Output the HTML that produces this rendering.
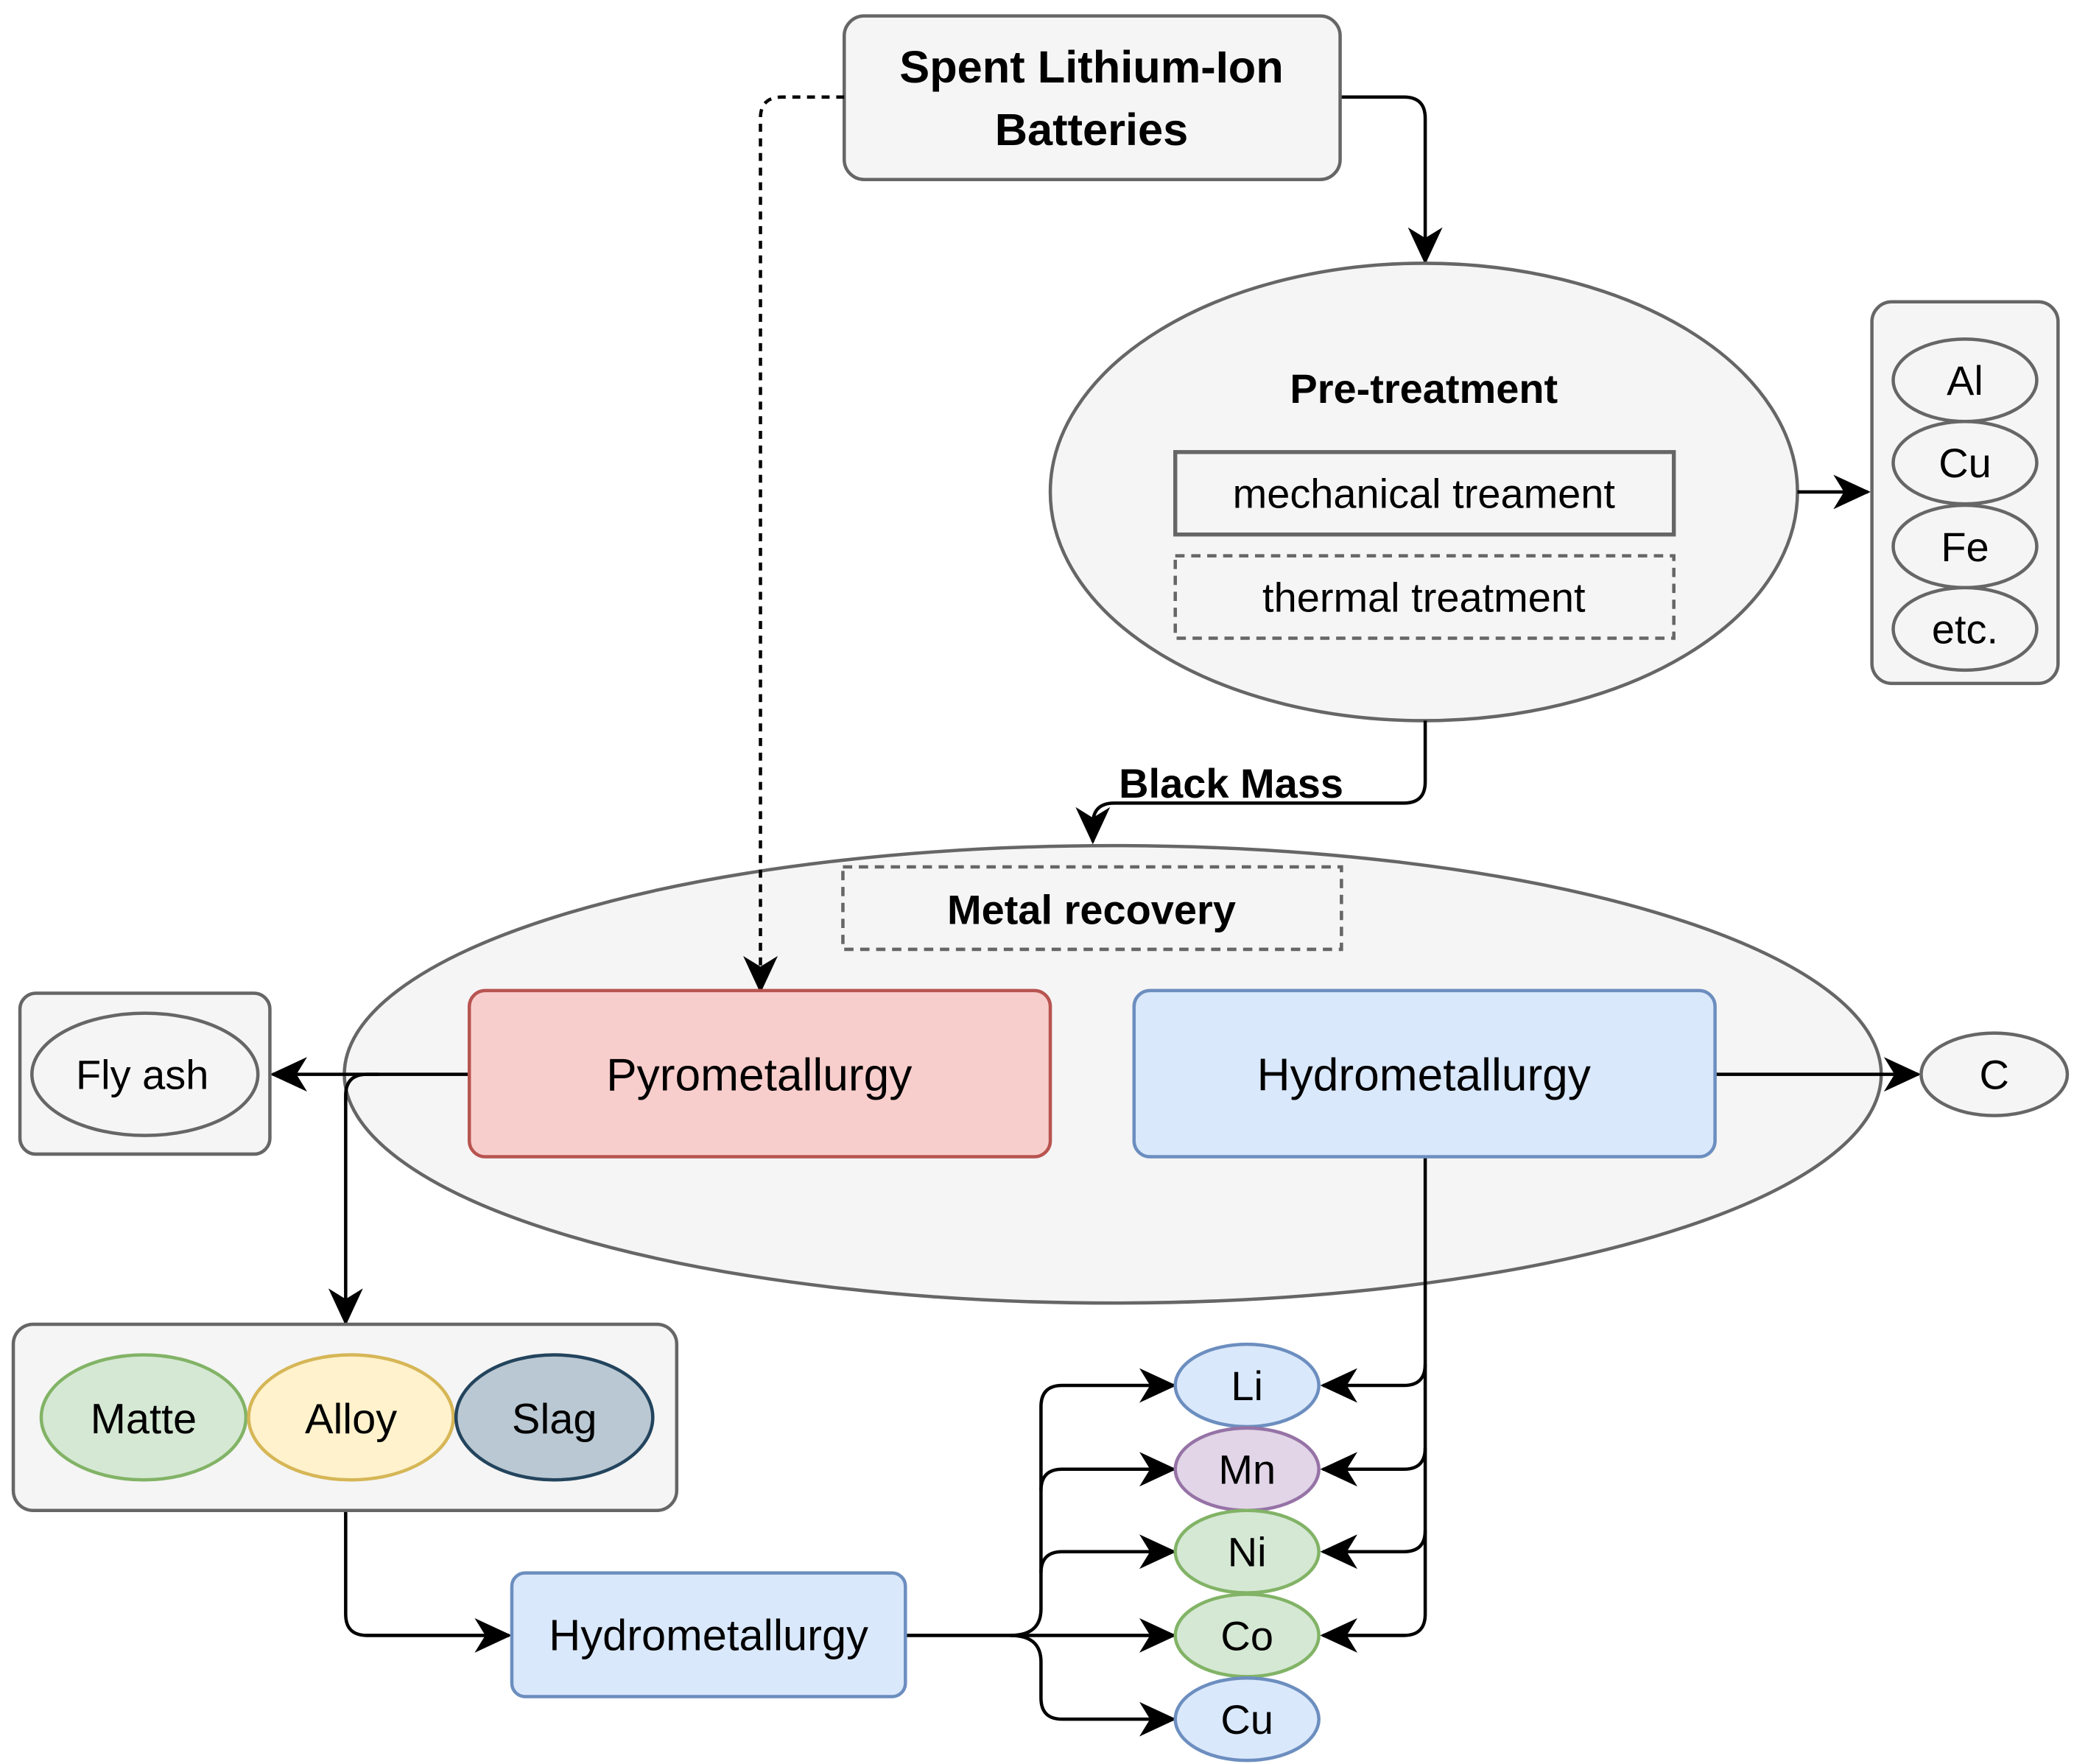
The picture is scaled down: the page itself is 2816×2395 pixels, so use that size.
<!DOCTYPE html>
<html><head><meta charset="utf-8"><style>html,body{margin:0;padding:0;background:#fff}svg{display:block}text{font-family:"Liberation Sans",Arial,sans-serif;fill:#000}</style></head>
<body>
<svg width="2816" height="2395" viewBox="0 0 1560 1326.7" preserveAspectRatio="none" xmlns="http://www.w3.org/2000/svg">
<defs>
<marker id="a" viewBox="0 0 28 26" refX="26" refY="13" markerWidth="28" markerHeight="26" markerUnits="userSpaceOnUse" orient="auto"><path d="M0,0 L28,13 L0,26 L8,13 Z" fill="#000"/></marker>
</defs>
<g stroke-width="2.5" fill="none" stroke="#000">
<path d="M1008,73 H1056 Q1072,73 1072,89 V197" marker-end="url(#a)"/>
</g>
<rect x="635" y="12" width="373" height="123" rx="15" fill="#f5f5f5" stroke="#666" stroke-width="2.5"/>
<text x="821" y="62" font-size="34" font-weight="bold" text-anchor="middle">Spent Lithium-Ion</text>
<text x="821" y="109" font-size="34" font-weight="bold" text-anchor="middle">Batteries</text>

<ellipse cx="1071" cy="370" rx="281" ry="172" fill="#f5f5f5" stroke="#666" stroke-width="2.5"/>
<text x="1071" y="303" font-size="31" font-weight="bold" text-anchor="middle">Pre-treatment</text>
<rect x="884" y="340" width="375" height="62" fill="#f5f5f5" stroke="#666" stroke-width="3"/>
<text x="1071" y="382" font-size="31" text-anchor="middle">mechanical treament</text>
<rect x="884" y="418" width="375" height="62" fill="#f5f5f5" stroke="#666" stroke-width="2.5" stroke-dasharray="7,5"/>
<text x="1071" y="460" font-size="31" text-anchor="middle">thermal treatment</text>

<path d="M1352,370 H1405" stroke="#000" stroke-width="2.5" marker-end="url(#a)"/>
<rect x="1408" y="227" width="140" height="287" rx="15" fill="#f5f5f5" stroke="#666" stroke-width="2.5"/>
<g fill="#f5f5f5" stroke="#666" stroke-width="2.5">
<ellipse cx="1478" cy="286" rx="54" ry="31"/><ellipse cx="1478" cy="348" rx="54" ry="31"/><ellipse cx="1478" cy="411" rx="54" ry="31"/><ellipse cx="1478" cy="473" rx="54" ry="31"/>
</g>
<g font-size="31" text-anchor="middle"><text x="1478" y="297">Al</text><text x="1478" y="359">Cu</text><text x="1478" y="422">Fe</text><text x="1478" y="484">etc.</text></g>

<path d="M1072,542 V588 Q1072,604 1056,604 H838 Q822,604 822,620 V633" fill="none" stroke="#000" stroke-width="2.5" marker-end="url(#a)"/>
<text x="926" y="600" font-size="31" font-weight="bold" text-anchor="middle">Black Mass</text>

<ellipse cx="837" cy="808" rx="578" ry="172" fill="#f5f5f5" stroke="#666" stroke-width="2.5"/>
<rect x="634" y="652" width="375" height="62" fill="#f5f5f5" stroke="#666" stroke-width="2.5" stroke-dasharray="7,5"/>
<text x="821" y="695" font-size="31" font-weight="bold" text-anchor="middle">Metal recovery</text>
<path d="M635,73 H588 Q572,73 572,89 V745" fill="none" stroke="#000" stroke-width="2.5" stroke-dasharray="6,5" marker-end="url(#a)"/>

<g stroke="#000" stroke-width="2.5" fill="none">
<path d="M353,808 H205" marker-end="url(#a)"/>
<path d="M285,808 H276 Q260,808 260,824 V995" marker-end="url(#a)"/>
<path d="M1290,808 H1443" marker-end="url(#a)"/>
<path d="M1072,870 V1214 Q1072,1230 1056,1230 H995" marker-end="url(#a)"/>
<path d="M1072,1026 Q1072,1042 1056,1042 H995" marker-end="url(#a)"/>
<path d="M1072,1089 Q1072,1105 1056,1105 H995" marker-end="url(#a)"/>
<path d="M1072,1151 Q1072,1167 1056,1167 H995" marker-end="url(#a)"/>
<path d="M260,1136 V1214 Q260,1230 276,1230 H383" marker-end="url(#a)"/>
<path d="M681,1230 H883" marker-end="url(#a)"/>
<path d="M760,1230 Q783,1230 783,1210 V1058 Q783,1042 799,1042 H883" marker-end="url(#a)"/>
<path d="M783,1121 Q783,1105 799,1105 H883" marker-end="url(#a)"/>
<path d="M783,1183 Q783,1167 799,1167 H883" marker-end="url(#a)"/>
<path d="M760,1230 Q783,1230 783,1250 V1277 Q783,1293 799,1293 H883" marker-end="url(#a)"/>
</g>

<rect x="353" y="745" width="437" height="125" rx="12" fill="#f8cecc" stroke="#b85450" stroke-width="2.5"/>
<text x="571" y="820" font-size="34.5" text-anchor="middle">Pyrometallurgy</text>
<rect x="853" y="745" width="437" height="125" rx="12" fill="#dae8fc" stroke="#6c8ebf" stroke-width="2.5"/>
<text x="1071" y="820" font-size="34.5" text-anchor="middle">Hydrometallurgy</text>

<ellipse cx="1500" cy="808" rx="55" ry="31" fill="#f5f5f5" stroke="#666" stroke-width="2.5"/>
<text x="1500" y="819" font-size="31" text-anchor="middle">C</text>

<rect x="15" y="747" width="188" height="121" rx="12" fill="#f5f5f5" stroke="#666" stroke-width="2.5"/>
<ellipse cx="109" cy="808" rx="85" ry="46" fill="#f5f5f5" stroke="#666" stroke-width="2.5"/>
<text x="107" y="819" font-size="31" text-anchor="middle">Fly ash</text>

<rect x="10" y="996" width="499" height="140" rx="15" fill="#f5f5f5" stroke="#666" stroke-width="2.5"/>
<ellipse cx="108" cy="1066" rx="77" ry="47" fill="#d5e8d4" stroke="#82b366" stroke-width="2.5"/>
<ellipse cx="264" cy="1066" rx="77" ry="47" fill="#fff2cc" stroke="#d6b656" stroke-width="2.5"/>
<ellipse cx="417" cy="1066" rx="74" ry="47" fill="#bac8d3" stroke="#23445d" stroke-width="2.5"/>
<g font-size="32" text-anchor="middle"><text x="108" y="1078">Matte</text><text x="264" y="1078">Alloy</text><text x="417" y="1078">Slag</text></g>

<rect x="385" y="1183" width="296" height="93" rx="10" fill="#dae8fc" stroke="#6c8ebf" stroke-width="2.5"/>
<text x="533" y="1241" font-size="33" text-anchor="middle">Hydrometallurgy</text>

<g stroke-width="2.5">
<ellipse cx="938" cy="1042" rx="54" ry="31" fill="#dae8fc" stroke="#6c8ebf"/>
<ellipse cx="938" cy="1105" rx="54" ry="31" fill="#e1d5e7" stroke="#9673a6"/>
<ellipse cx="938" cy="1167" rx="54" ry="31" fill="#d5e8d4" stroke="#82b366"/>
<ellipse cx="938" cy="1230" rx="54" ry="31" fill="#d5e8d4" stroke="#82b366"/>
<ellipse cx="938" cy="1293" rx="54" ry="31" fill="#dae8fc" stroke="#6c8ebf"/>
</g>
<g font-size="31" text-anchor="middle"><text x="938" y="1053">Li</text><text x="938" y="1116">Mn</text><text x="938" y="1178">Ni</text><text x="938" y="1241">Co</text><text x="938" y="1304">Cu</text></g>
</svg>
</body></html>
